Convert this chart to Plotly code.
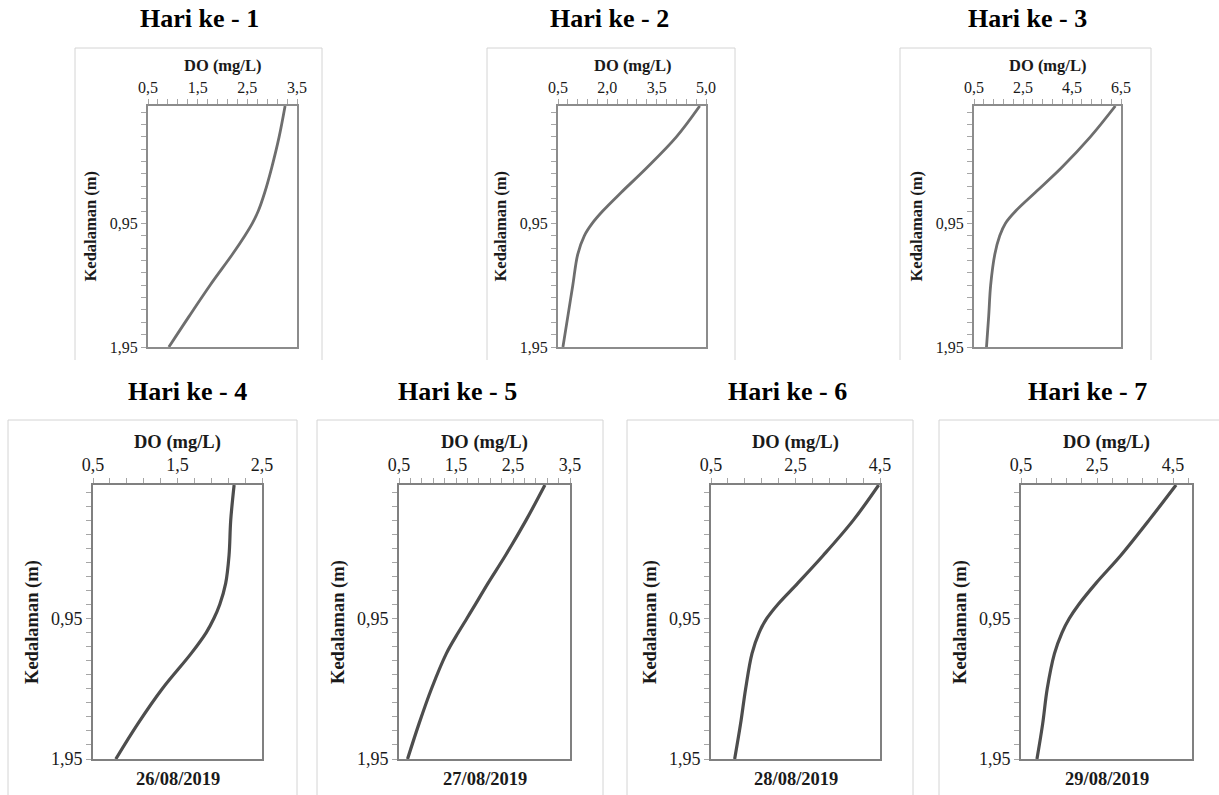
import plotly.graph_objects as go

# ---------------- data ----------------
DEPTH = [0.0, 0.25, 0.5, 0.7, 0.85, 0.95, 1.05, 1.2, 1.45, 1.7, 1.95]

DO_DAY1 = [3.26, 3.14, 2.99, 2.85, 2.72, 2.60, 2.45, 2.20, 1.75, 1.33, 0.92]
DO_DAY2 = [4.81, 4.10, 3.20, 2.42, 1.86, 1.54, 1.30, 1.10, 0.95, 0.80, 0.65]
DO_DAY3 = [6.27, 5.25, 4.07, 3.00, 2.20, 1.78, 1.55, 1.35, 1.18, 1.10, 1.01]
DO_DAY4 = [2.17, 2.13, 2.11, 2.07, 2.00, 1.93, 1.84, 1.66, 1.32, 1.03, 0.77]
DO_DAY5 = [3.06, 2.73, 2.37, 2.06, 1.84, 1.69, 1.54, 1.33, 1.07, 0.85, 0.65]
DO_DAY6 = [4.47, 3.87, 3.16, 2.55, 2.08, 1.82, 1.64, 1.47, 1.32, 1.20, 1.06]
DO_DAY7 = [4.58, 3.87, 3.13, 2.47, 2.02, 1.77, 1.58, 1.38, 1.19, 1.07, 0.92]

TITLES = ["Hari ke - 1", "Hari ke - 2", "Hari ke - 3", "Hari ke - 4",
          "Hari ke - 5", "Hari ke - 6", "Hari ke - 7"]
DATES = [None, None, None, "26/08/2019", "27/08/2019", "28/08/2019", "29/08/2019"]

X_RANGES = [(0.5, 3.5), (0.5, 5.0), (0.5, 6.5), (0.5, 2.5), (0.5, 3.5), (0.5, 4.5), (0.5, 5.0)]
X_TICKS = [[0.5, 1.5, 2.5, 3.5], [0.5, 2.0, 3.5, 5.0], [0.5, 2.5, 4.5, 6.5],
           [0.5, 1.5, 2.5], [0.5, 1.5, 2.5, 3.5], [0.5, 2.5, 4.5], [0.5, 2.5, 4.5]]
X_TICKTEXT = [["0,5", "1,5", "2,5", "3,5"], ["0,5", "2,0", "3,5", "5,0"],
              ["0,5", "2,5", "4,5", "6,5"], ["0,5", "1,5", "2,5"],
              ["0,5", "1,5", "2,5", "3,5"], ["0,5", "2,5", "4,5"], ["0,5", "2,5", "4,5"]]
X_MINOR = [0.2, 0.3, 0.4, 0.2, 0.2, 0.4, 0.4]

Y_TICKS = [0.95, 1.95]
Y_TICKTEXT = ["0,95", "1,95"]
Y_MINOR = [round(0.05 + 0.1 * i, 2) for i in range(19)]
Y_RANGE = (1.95, 0.0)

SERIES = [DO_DAY1, DO_DAY2, DO_DAY3, DO_DAY4, DO_DAY5, DO_DAY6, DO_DAY7]

# ---------------- layout (pixels, screen coordinates) ----------------
W, H = 1219, 795
# plot areas: (left, right, top, bottom)
PLOTS = [(148, 297, 106, 347), (558, 706, 106, 347), (974, 1121, 106, 347),
         (93, 262, 485, 759), (399, 570, 485, 759), (711, 880, 485, 759),
         (1021, 1192, 485, 759)]
# chart boxes: (left, right, top, bottom)
BOXES = [(75, 322, 48, 360), (487, 735, 48, 360), (900, 1151, 48, 360),
         (8, 297, 420, 800), (317, 603, 420, 800), (627, 913, 420, 800),
         (939, 1230, 420, 800)]
TITLE_POS = [(199, 19), (609, 19), (1027, 19), (187, 391), (457, 391), (787, 391), (1087, 391)]

FONT = "Liberation Serif"


def px(x):
    return x / W


def py(y):
    return 1 - y / H


fig = go.Figure()
annotations = []
shapes = []

for i in range(7):
    n = "" if i == 0 else str(i + 1)
    xa = "x" + n
    ya = "y" + n
    big = i >= 3
    tick_fs = 18 if big else 16
    lab_fs = 18.5 if big else 16.5
    line_col = "#4d4d4d" if big else "#6e6e6e"
    frame_col = "#808080" if big else "#8c8c8c"

    fig.add_trace(go.Scatter(
        x=SERIES[i], y=DEPTH, mode="lines",
        line=dict(color=line_col, width=3.2 if big else 2.8, shape="spline", smoothing=1.0),
        xaxis=xa, yaxis=ya, showlegend=False, hoverinfo="skip"))

    L, R, T, B = PLOTS[i]
    xkey = "xaxis" + n
    ykey = "yaxis" + n
    fig.layout[xkey] = dict(
        domain=[px(L), px(R)], anchor=ya, side="top", automargin=False,
        range=list(X_RANGES[i]), tickmode="array", tickvals=X_TICKS[i], ticktext=X_TICKTEXT[i],
        ticks="outside", ticklen=5, tickwidth=1, tickcolor="#a6a6a6",
        minor=dict(tick0=0.5, dtick=X_MINOR[i], ticks="outside", ticklen=5,
                   tickwidth=1, tickcolor="#a6a6a6", showgrid=False),
        showline=True, mirror=True, linecolor=frame_col, linewidth=2,
        showgrid=False, zeroline=False, fixedrange=True,
        tickfont=dict(family=FONT, size=tick_fs, color="#1a1a1a"))
    fig.layout[ykey] = dict(
        domain=[py(B), py(T)], anchor=xa, automargin=False,
        range=list(Y_RANGE), tickmode="array", tickvals=Y_TICKS, ticktext=Y_TICKTEXT,
        ticks="outside", ticklen=5, tickwidth=1, tickcolor="#a6a6a6",
        minor=dict(tickmode="array", tickvals=Y_MINOR, ticks="outside", ticklen=5,
                   tickwidth=1, tickcolor="#a6a6a6", showgrid=False),
        showline=True, mirror=True, linecolor=frame_col, linewidth=2,
        showgrid=False, zeroline=False, fixedrange=True,
        tickfont=dict(family=FONT, size=tick_fs, color="#1a1a1a"))

    # chart box (open at the bottom)
    bl, br, bt, bb = BOXES[i]
    shapes.append(dict(type="path", xref="paper", yref="paper",
                       path=f"M {px(bl)},{py(bb)} L {px(bl)},{py(bt)} L {px(br)},{py(bt)} L {px(br)},{py(bb)}",
                       line=dict(color="#d4d4d4", width=1)))

    # panel title
    tx, ty = TITLE_POS[i]
    annotations.append(dict(text="<b>" + TITLES[i] + "</b>", xref="paper", yref="paper",
                            x=px(tx), y=py(ty), xanchor="center", yanchor="middle",
                            showarrow=False, font=dict(family=FONT, size=26, color="#000000")))
    # x axis title
    annotations.append(dict(text="<b>DO (mg/L)</b>", xref="paper", yref="paper",
                            x=px((L + R) / 2), y=py(T - (43 if big else 40)),
                            xanchor="center", yanchor="middle", showarrow=False,
                            font=dict(family=FONT, size=lab_fs, color="#1a1a1a")))
    # y axis title
    annotations.append(dict(text="<b>Kedalaman (m)</b>", xref="paper", yref="paper",
                            x=px(L - (61 if big else 58)), y=py((T + B) / 2),
                            xanchor="center", yanchor="middle", textangle=-90, showarrow=False,
                            font=dict(family=FONT, size=lab_fs, color="#1a1a1a")))
    if DATES[i]:
        annotations.append(dict(text="<b>" + DATES[i] + "</b>", xref="paper", yref="paper",
                                x=px((L + R) / 2), y=py(B + 20),
                                xanchor="center", yanchor="middle", showarrow=False,
                                font=dict(family=FONT, size=18.5, color="#1a1a1a")))

fig.update_layout(
    width=W, height=H, margin=dict(l=0, r=0, t=0, b=0, pad=0),
    paper_bgcolor="white", plot_bgcolor="white",
    annotations=annotations, shapes=shapes, showlegend=False)

fig.write_html("out.html", config={"displayModeBar": False},
               post_script="document.body.style.margin='0px';")
